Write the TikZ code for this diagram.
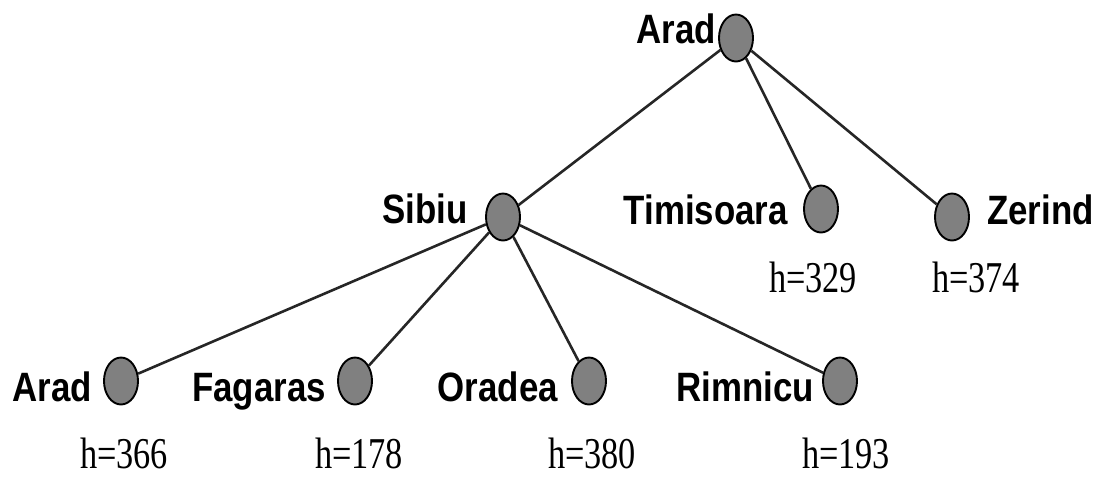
\documentclass[tikz,border=0pt]{standalone}
\usepackage{fontspec}
\usetikzlibrary{shapes.geometric}
\newfontfamily\citysans[FakeStretch=0.85]{Liberation Sans}
\newfontfamily\hserif[FakeStretch=0.78]{Liberation Serif}
\begin{document}
\begin{tikzpicture}[x=1pt,y=-1pt,
  city/.style={ellipse,draw=black,line width=1.9pt,fill=black!50,
    minimum width=34pt,minimum height=47pt,inner sep=0pt},
  cityname/.style={font=\citysans\bfseries\fontsize{41}{41}\selectfont,inner sep=0pt},
  hval/.style={font=\hserif\fontsize{44}{44}\selectfont,inner sep=0pt},
  edge/.style={draw=black!85,line width=2.6pt}]
\useasboundingbox (0,0) rectangle (1095,477);

% search tree nodes
\node[city] (arad0) at (736,38) {};
\node[city] (sibiu) at (503,217) {};
\node[city] (timis) at (821,209) {};
\node[city] (zerind) at (952,217) {};
\node[city] (arad1) at (121,381) {};
\node[city] (fagar) at (355,381) {};
\node[city] (orad) at (589,381) {};
\node[city] (rimn) at (840,381) {};

% tree edges
\draw[edge] (arad0) -- (sibiu);
\draw[edge] (arad0) -- (timis);
\draw[edge] (arad0) -- (zerind);
\draw[edge] (sibiu) -- (arad1);
\draw[edge] (sibiu) -- (fagar);
\draw[edge] (sibiu) -- (orad);
\draw[edge] (sibiu) -- (rimn);

% city names
\node[cityname,anchor=base east] (larad0) at (716,43) {Arad};
\node[cityname,anchor=base east] (lsibiu) at (468,223) {Sibiu};
\node[cityname,anchor=base east] (ltimis) at (788,224) {Timisoara};
\node[cityname,anchor=base west] (lzerind) at (987,224) {Zerind};
\node[cityname,anchor=base east] (larad1) at (92,401) {Arad};
\node[cityname,anchor=base east] (lfagar) at (326,401) {Fagaras};
\node[cityname,anchor=base east] (lorad) at (558,401) {Oradea};
\node[cityname,anchor=base east] (lrimn) at (814,401) {Rimnicu};

% heuristic values
\node[hval,anchor=base] (htimis) at (813,292) {h=329};
\node[hval,anchor=base] (hzerind) at (976,292) {h=374};
\node[hval,anchor=base] (harad1) at (124,468) {h=366};
\node[hval,anchor=base] (hfagar) at (359,468) {h=178};
\node[hval,anchor=base] (horad) at (592,468) {h=380};
\node[hval,anchor=base] (hrimn) at (846,468) {h=193};
\end{tikzpicture}
\end{document}
